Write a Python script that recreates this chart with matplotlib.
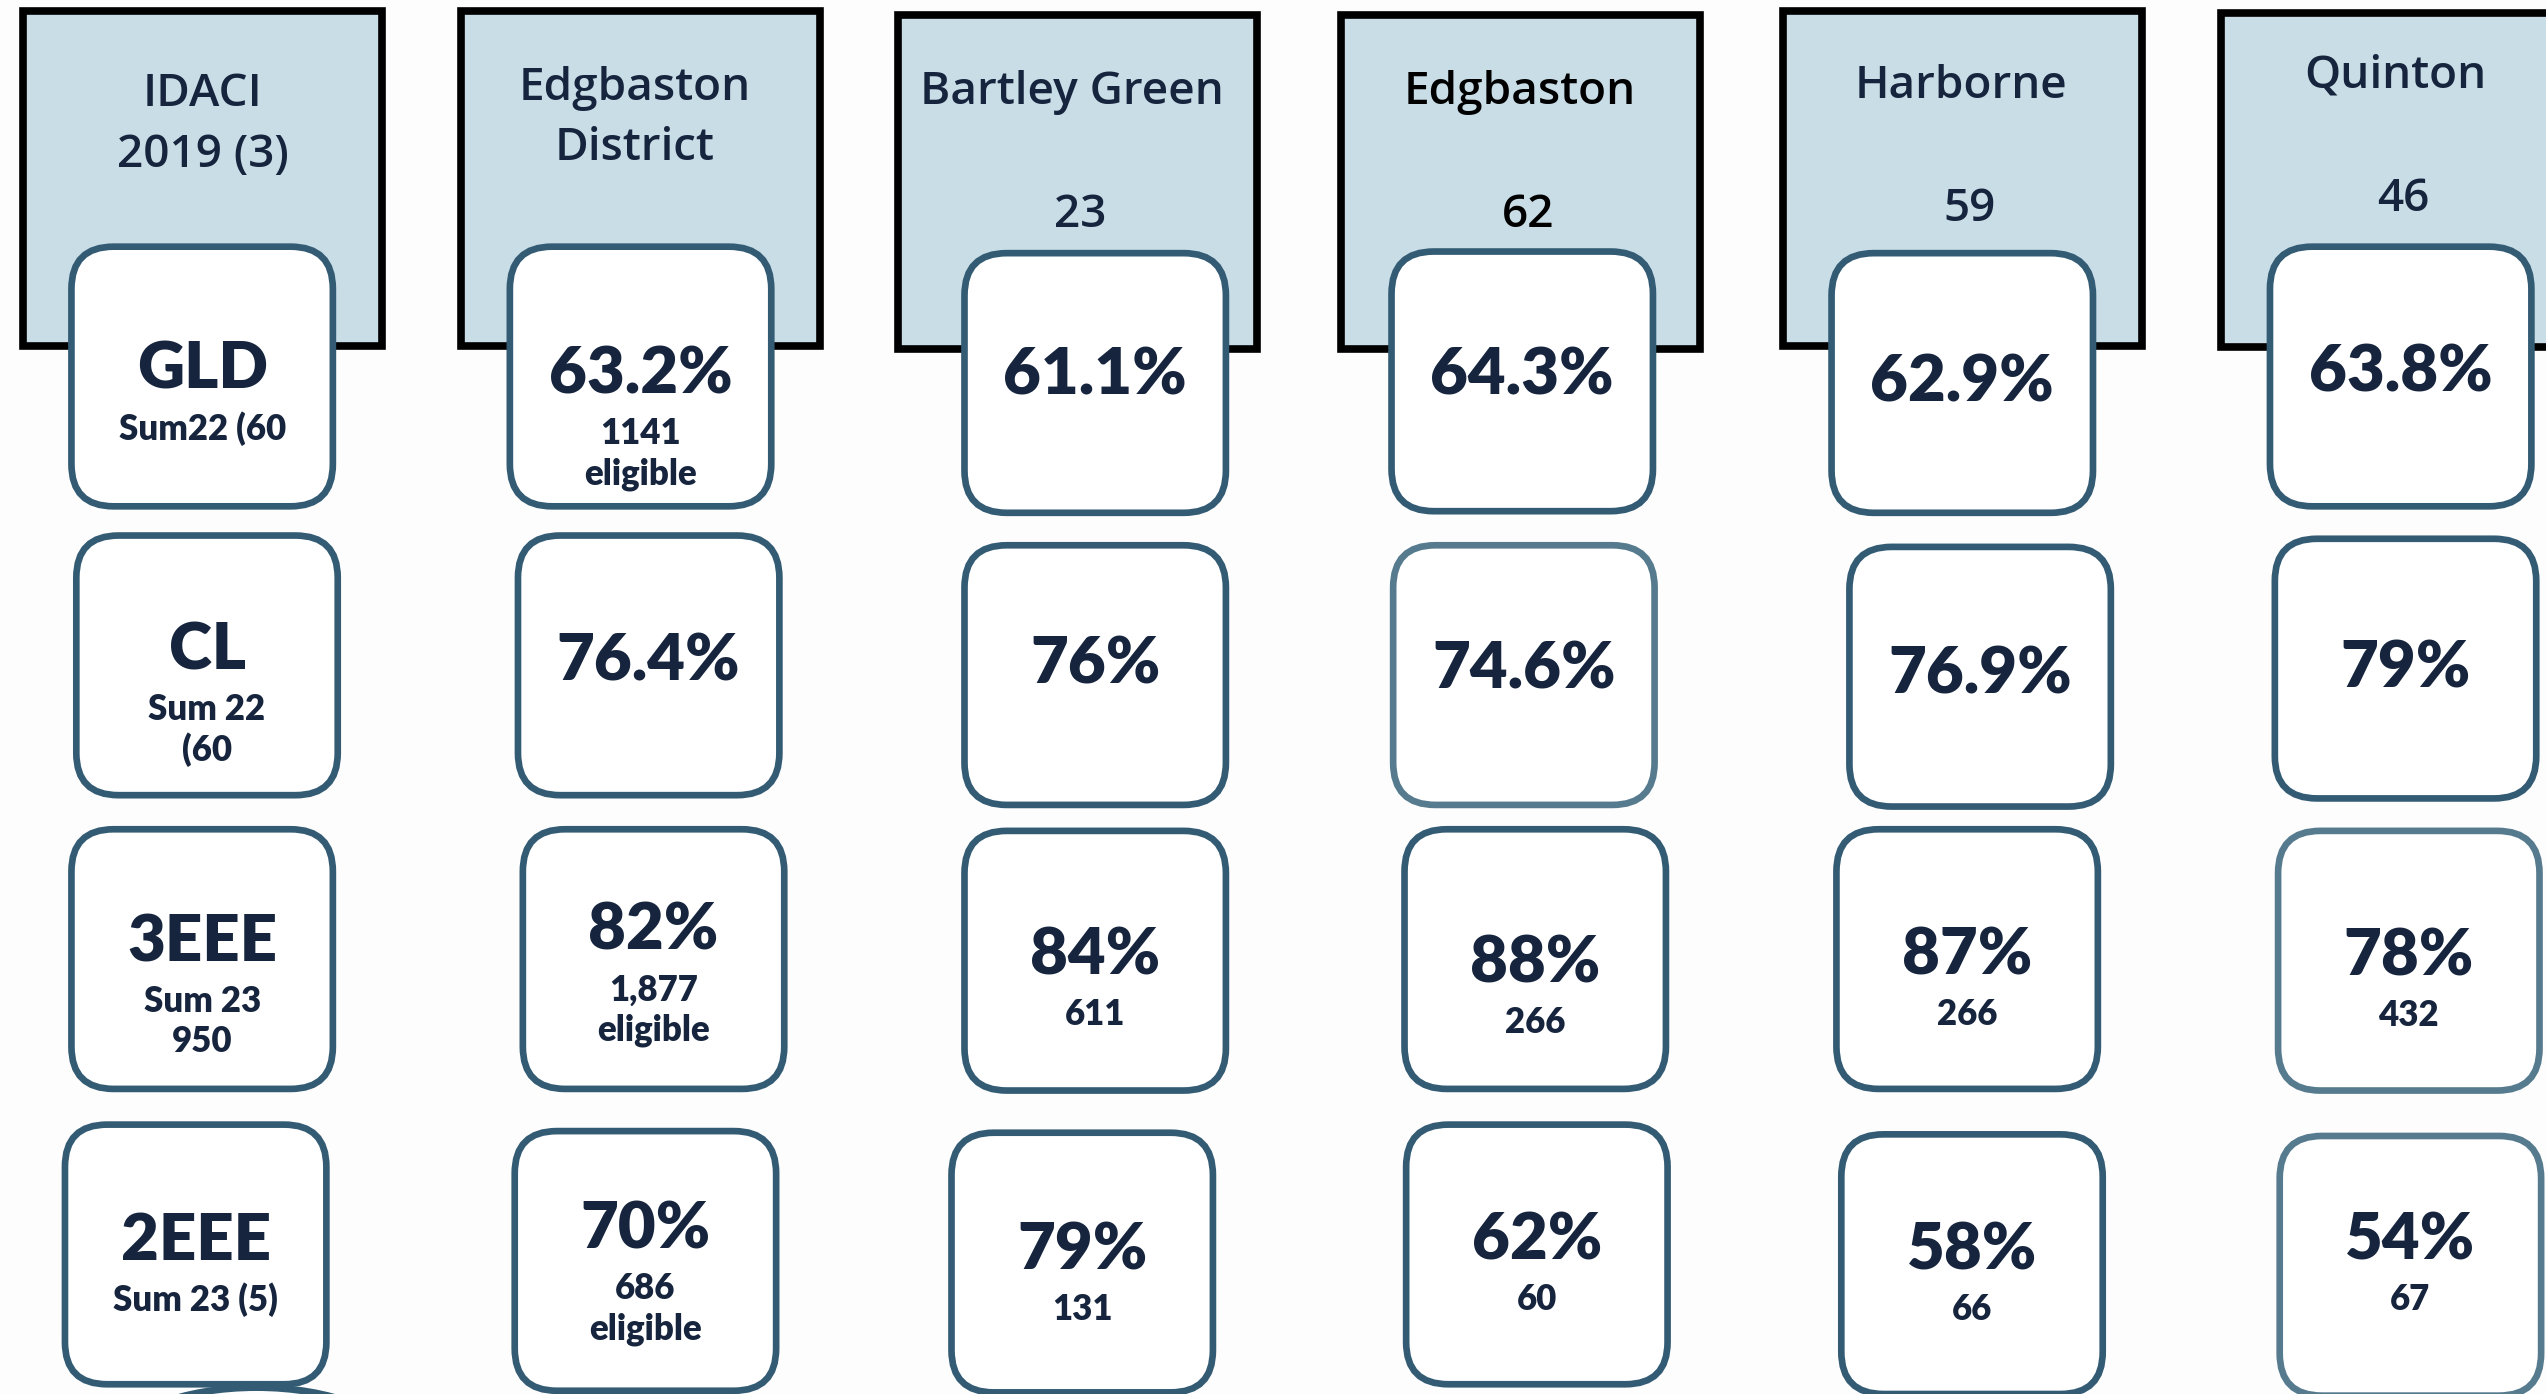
import matplotlib.pyplot as plt
from matplotlib.patches import FancyBboxPatch, Rectangle, Ellipse

# Kolonner (overskrifter)
headers = ["IDACI\n2019 (3)", "Edgbaston\nDistrict", "Bartley Green", "Edgbaston", "Harborne", "Quinton"]
wards_count = ["", "", "23", "62", "59", "46"]

# Radetiketter i første kolonne
row_names = ["GLD", "CL", "3EEE", "2EEE"]
row_subs = [["Sum22 (60"], ["Sum 22", "(60"], ["Sum 23", "950"], ["Sum 23 (5)"]]

# Verdier per rad (District, Bartley Green, Edgbaston, Harborne, Quinton)
gld = ["63.2%", "61.1%", "64.3%", "62.9%", "63.8%"]
gld_n = [["1141", "eligible"], [], [], [], []]
cl = ["76.4%", "76%", "74.6%", "76.9%", "79%"]
cl_n = [[], [], [], [], []]
eee3 = ["82%", "84%", "88%", "87%", "78%"]
eee3_n = [["1,877", "eligible"], ["611"], ["266"], ["266"], ["432"]]
eee2 = ["70%", "79%", "62%", "58%", "54%"]
eee2_n = [["686", "eligible"], ["131"], ["60"], ["66"], ["67"]]

rows = [(gld, gld_n), (cl, cl_n), (eee3, eee3_n), (eee2, eee2_n)]

# Layout (bildepiksler i 1568x859-rutenett)
head_x = [14, 284, 553, 826, 1098, 1368]
head_y = [7, 7, 9, 9, 7, 8]
head_w, head_h = 221, 206
head_txt = [(125, 77), (391, 73), (660, 57), (936, 57), (1208, 53), (1475, 47)]
num_txt_y = [0, 0, 133, 133, 129, 123]

box_left = [[44, 314, 594, 857, 1128, 1398],
            [47, 319, 594, 858, 1139, 1401],
            [44, 322, 594, 865, 1131, 1403],
            [40, 317, 586, 866, 1134, 1404]]
box_top = [[152, 152, 156, 155, 156, 152],
           [330, 330, 336, 336, 337, 332],
           [511, 511, 512, 511, 511, 512],
           [693, 697, 698, 693, 699, 700]]
main_y = [[228, 231, 232, 232, 236, 230],
          [401, 408, 410, 413, 416, 412],
          [581, 574, 589, 594, 589, 590],
          [765, 758, 771, 765, 771, 765]]
box_w, box_h = 161, 160
light = {(1, 3), (2, 5), (3, 5)}

navy = "#16253d"
stroke = "#335b74"
stroke_light = "#577b8e"
head_fill = "#c9dde7"

fig = plt.figure(figsize=(25.46, 13.94), dpi=100)
ax = fig.add_axes([0, 0, 1, 1])
ax.set_xlim(0, 1568)
ax.set_ylim(859, 0)
ax.axis("off")
fig.patch.set_facecolor("#fdfdfd")

head_font = dict(family=["Open Sans", "DejaVu Sans"], fontsize=33, color=navy, weight="semibold")
big_font = dict(family=["Lato", "DejaVu Sans"], fontsize=47, color=navy, weight="heavy")
small_font = dict(family=["Lato", "DejaVu Sans"], fontsize=25, color=navy, weight="heavy")

# Overskriftsbokser
for i, h in enumerate(headers):
    ax.add_patch(Rectangle((head_x[i], head_y[i]), head_w, head_h, facecolor=head_fill,
                           edgecolor="black", linewidth=5.5, zorder=1))
    c = "black" if i == 3 else navy
    ax.text(head_txt[i][0], head_txt[i][1], h, ha="center", va="center",
            linespacing=1.45, zorder=2, **{**head_font, "color": c})
    if wards_count[i]:
        ax.text(head_txt[i][0] + 5, num_txt_y[i], wards_count[i], ha="center", va="center",
                zorder=2, **{**head_font, "color": c})

# Verdibokser
for r in range(4):
    vals, subs = rows[r]
    labels = [row_names[r]] + vals
    sublines = [row_subs[r]] + subs
    for c in range(6):
        x0, y0 = box_left[r][c], box_top[r][c]
        ec = stroke_light if (r, c) in light else stroke
        ax.add_patch(FancyBboxPatch((x0, y0), box_w, box_h,
                                    boxstyle="round,pad=0,rounding_size=26",
                                    facecolor="white", edgecolor=ec, linewidth=4.8, zorder=3))
        cx = x0 + box_w / 2
        ax.text(cx, main_y[r][c], labels[c], ha="center", va="center", zorder=4, **big_font)
        for k, s in enumerate(sublines[c]):
            ax.text(cx, main_y[r][c] + 36 + 25 * k, s, ha="center", va="center",
                    zorder=4, **small_font)

# Bit av en form nederst til venstre
ax.add_patch(Ellipse((158, 890), 170, 70, facecolor="none", edgecolor=stroke,
                     linewidth=5, zorder=2))

fig.savefig("out.png", dpi=100, facecolor=fig.get_facecolor())
